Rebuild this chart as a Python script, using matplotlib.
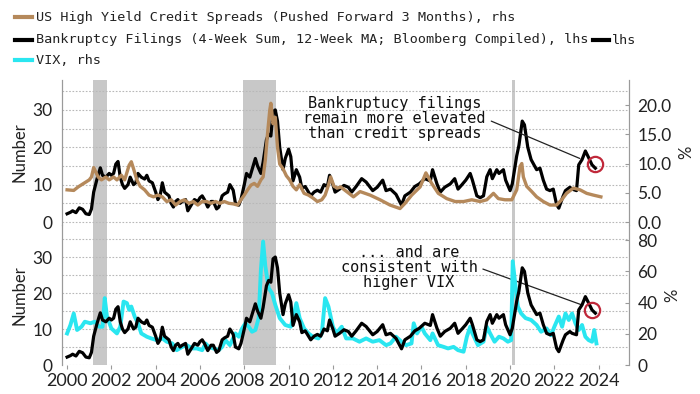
import matplotlib.pyplot as plt
from matplotlib.lines import Line2D
from matplotlib.ticker import MultipleLocator

# Bankruptcy filings (4-week sum, 12-week MA), lhs
bk_years = [2000.00, 2000.15, 2000.25, 2000.40, 2000.55, 2000.70, 2000.85, 2001.00, 2001.10, 2001.20,
            2001.35, 2001.50, 2001.60, 2001.75, 2001.90, 2002.00, 2002.10, 2002.20, 2002.30, 2002.40,
            2002.50, 2002.60, 2002.75, 2002.85, 2003.00, 2003.10, 2003.20, 2003.35, 2003.50, 2003.60,
            2003.70, 2003.85, 2004.00, 2004.10, 2004.20, 2004.30, 2004.40, 2004.50, 2004.60, 2004.70,
            2004.80, 2004.90, 2005.00, 2005.10, 2005.20, 2005.35, 2005.45, 2005.60, 2005.75, 2005.90,
            2006.00, 2006.10, 2006.20, 2006.35, 2006.50, 2006.60, 2006.75, 2006.85, 2007.00, 2007.10,
            2007.25, 2007.35, 2007.50, 2007.60, 2007.75, 2007.85, 2008.00, 2008.10, 2008.25, 2008.40,
            2008.50, 2008.60, 2008.75, 2008.85, 2009.00, 2009.10, 2009.20, 2009.30, 2009.40, 2009.50,
            2009.60, 2009.75, 2009.85, 2010.00, 2010.10, 2010.20, 2010.35, 2010.50, 2010.60, 2010.75,
            2010.90, 2011.00, 2011.15, 2011.30, 2011.45, 2011.60, 2011.75, 2011.85, 2012.00, 2012.10,
            2012.30, 2012.50, 2012.70, 2012.85, 2013.05, 2013.30, 2013.50, 2013.80, 2014.00, 2014.25,
            2014.40, 2014.60, 2014.85, 2015.10, 2015.25, 2015.50, 2015.70, 2015.90, 2016.15, 2016.40,
            2016.50, 2016.70, 2016.85, 2017.05, 2017.30, 2017.50, 2017.65, 2017.80, 2018.00, 2018.20,
            2018.30, 2018.50, 2018.65, 2018.80, 2018.95, 2019.10, 2019.20, 2019.40, 2019.50, 2019.70,
            2019.80, 2020.00, 2020.10, 2020.30, 2020.40, 2020.55, 2020.65, 2020.80, 2020.95, 2021.20,
            2021.35, 2021.50, 2021.65, 2021.80, 2021.95, 2022.10, 2022.20, 2022.40, 2022.50, 2022.70,
            2022.80, 2023.00, 2023.10, 2023.25, 2023.40, 2023.55, 2023.70, 2023.85]
bk_vals = [2.2, 2.6, 3.0, 2.5, 3.8, 3.4, 2.2, 2.0, 3.5, 8.0,
           11.5, 14.5, 12.5, 12.0, 13.0, 12.5, 13.0, 15.5, 16.2, 12.0,
           10.0, 9.0, 10.0, 12.0, 10.0, 10.5, 13.0, 12.0, 11.5, 12.5,
           11.0, 10.5, 8.0, 6.0, 7.0, 10.5, 8.0, 7.5, 7.0, 5.0,
           4.0, 5.5, 6.0, 5.0, 5.5, 6.0, 3.0, 4.5, 6.0, 5.5,
           6.5, 7.0, 6.0, 4.0, 5.5, 5.5, 3.5, 4.0, 7.0, 7.5,
           8.0, 10.0, 8.5, 5.0, 4.5, 6.0, 10.0, 13.0, 12.0, 15.0,
           17.0, 15.0, 13.0, 16.0, 22.0, 23.5, 23.0, 29.5, 30.0, 27.0,
           20.0, 14.0, 17.0, 19.5, 17.5, 11.0, 14.0, 12.0, 9.0, 9.5,
           8.0, 7.0, 8.0, 8.5, 8.0, 10.0, 9.5, 12.5, 10.0, 8.0,
           8.8, 9.8, 9.3, 8.0, 9.5, 11.6, 10.7, 8.4, 9.3, 11.2,
           8.4, 8.8, 7.4, 4.5, 7.0, 8.0, 9.5, 10.2, 11.6, 11.0,
           14.0, 10.2, 8.0, 9.3, 10.2, 11.6, 8.8, 9.8, 11.2, 13.0,
           11.2, 7.0, 6.5, 7.0, 12.1, 14.0, 11.6, 14.0, 13.0, 14.0,
           11.2, 8.4, 10.2, 17.7, 20.5, 27.0, 26.0, 20.0, 16.7, 14.0,
           14.4, 11.2, 8.8, 8.4, 8.8, 4.7, 3.7, 7.0, 8.4, 9.3,
           8.8, 8.4, 15.3, 16.7, 19.0, 17.2, 15.3, 14.4]

# US high yield credit spreads (pushed forward 3 months), rhs, %
sp_years = [2000.00, 2000.30, 2000.50, 2000.75, 2001.00, 2001.10, 2001.20, 2001.40, 2001.55, 2001.75,
            2001.90, 2002.10, 2002.25, 2002.45, 2002.60, 2002.80, 2002.90, 2003.00, 2003.15, 2003.30,
            2003.50, 2003.70, 2003.90, 2004.10, 2004.30, 2004.50, 2004.70, 2004.90, 2005.10, 2005.30,
            2005.50, 2005.70, 2005.90, 2006.10, 2006.30, 2006.50, 2006.70, 2006.90, 2007.10, 2007.30,
            2007.50, 2007.70, 2007.85, 2008.00, 2008.15, 2008.30, 2008.45, 2008.60, 2008.75, 2008.85,
            2008.95, 2009.05, 2009.15, 2009.20, 2009.30, 2009.40, 2009.50, 2009.60, 2009.75, 2009.90,
            2010.05, 2010.20, 2010.35, 2010.50, 2010.70, 2010.90, 2011.10, 2011.30, 2011.50, 2011.65,
            2011.80, 2011.90, 2012.05, 2012.20, 2012.35, 2012.93, 2013.23, 2013.68, 2014.13, 2014.58,
            2015.03, 2015.26, 2015.56, 2015.94, 2016.20, 2016.46, 2016.76, 2017.14, 2017.52, 2017.90,
            2018.27, 2018.65, 2018.95, 2019.25, 2019.47, 2019.77, 2020.08, 2020.30, 2020.45, 2020.53,
            2020.60, 2020.75, 2020.98, 2021.20, 2021.50, 2021.80, 2022.10, 2022.33, 2022.55, 2022.86,
            2023.16, 2023.46, 2023.76, 2024.10]
sp_vals = [5.5, 5.4, 6.0, 6.6, 7.2, 7.7, 9.3, 7.7, 7.2, 7.7,
           7.2, 7.7, 7.2, 8.0, 7.2, 9.7, 10.3, 9.1, 7.2, 6.1,
           5.5, 4.6, 4.3, 4.6, 4.3, 3.5, 3.8, 2.9, 3.5, 3.8,
           3.2, 3.5, 2.9, 3.5, 3.5, 3.2, 3.5, 3.2, 3.5, 3.2,
           3.1, 2.9, 3.8, 4.6, 5.5, 6.3, 6.6, 6.1, 7.2, 7.7,
           10.6, 15.1, 19.1, 20.3, 16.8, 17.9, 12.8, 9.9, 9.1, 7.9,
           7.2, 6.1, 5.5, 6.4, 4.9, 4.6, 4.1, 3.5, 3.8, 4.6,
           6.3, 7.7, 6.1, 5.8, 6.0, 4.3, 5.2, 4.6, 3.8, 2.9,
           2.3, 3.2, 4.6, 6.0, 8.4, 6.6, 4.9, 4.0, 3.5, 3.5,
           3.8, 3.5, 3.8, 4.9, 4.0, 3.8, 3.8, 5.5, 9.5, 10.0,
           7.7, 6.1, 5.2, 4.3, 3.5, 2.9, 2.9, 3.8, 4.9, 5.8,
           5.5, 4.9, 4.6, 4.3]

# VIX, rhs
vix_years = [2000.00, 2000.15, 2000.30, 2000.45, 2000.65, 2000.80, 2001.05, 2001.25, 2001.45, 2001.60,
             2001.70, 2001.80, 2002.00, 2002.25, 2002.40, 2002.55, 2002.70, 2002.80, 2002.90, 2003.05,
             2003.20, 2003.35, 2003.60, 2003.80, 2004.05, 2004.30, 2004.50, 2004.75, 2004.95, 2005.20,
             2005.40, 2005.65, 2005.85, 2006.10, 2006.25, 2006.40, 2006.60, 2006.85, 2007.00, 2007.15,
             2007.35, 2007.60, 2007.75, 2007.90, 2008.05, 2008.20, 2008.35, 2008.50, 2008.65, 2008.75,
             2008.85, 2008.95, 2009.10, 2009.25, 2009.40, 2009.60, 2009.85, 2010.10, 2010.25, 2010.35,
             2010.50, 2010.70, 2010.90, 2011.10, 2011.35, 2011.50, 2011.65, 2011.80, 2012.00, 2012.15,
             2012.40, 2012.60, 2012.90, 2013.20, 2013.50, 2013.80, 2014.10, 2014.40, 2014.60, 2014.85,
             2015.10, 2015.30, 2015.55, 2015.65, 2015.80, 2016.00, 2016.15, 2016.40, 2016.50, 2016.75,
             2017.00, 2017.20, 2017.45, 2017.65, 2017.90, 2018.05, 2018.20, 2018.30, 2018.55, 2018.80,
             2018.95, 2019.10, 2019.30, 2019.50, 2019.70, 2019.90, 2020.05, 2020.12, 2020.25, 2020.35,
             2020.50, 2020.70, 2020.95, 2021.20, 2021.40, 2021.65, 2021.85, 2022.00, 2022.20, 2022.35,
             2022.50, 2022.65, 2022.80, 2022.95, 2023.10, 2023.25, 2023.40, 2023.55, 2023.70, 2023.80,
             2023.90]
vix_vals = [20.2, 25.6, 33.0, 22.4, 24.5, 27.7, 26.7, 27.7, 24.5, 24.5,
            42.8, 31.0, 23.4, 20.2, 24.5, 40.6, 39.6, 35.3, 37.4, 31.0,
            26.7, 20.2, 18.1, 17.0, 15.9, 17.0, 14.9, 13.8, 9.5, 11.6,
            12.7, 10.6, 10.6, 9.5, 13.8, 11.6, 10.6, 9.5, 11.6, 15.9,
            12.7, 20.2, 18.1, 23.4, 26.7, 24.5, 21.3, 22.4, 30.0, 61.0,
            79.0, 63.2, 49.2, 46.0, 38.5, 30.0, 25.6, 24.5, 33.0, 39.6,
            30.0, 23.4, 20.2, 18.1, 17.0, 20.2, 42.8, 37.4, 24.5, 20.2,
            24.5, 17.0, 17.0, 14.9, 17.0, 14.9, 15.9, 12.7, 13.8, 18.1,
            14.9, 12.7, 13.8, 26.7, 20.2, 24.5, 20.2, 15.9, 20.2, 12.7,
            11.6, 10.6, 11.6, 9.5, 8.5, 18.1, 24.5, 20.2, 12.7, 14.9,
            24.5, 20.2, 14.9, 18.1, 17.0, 14.9, 15.9, 66.4, 50.3, 37.4,
            33.0, 30.0, 28.8, 25.6, 21.3, 23.4, 19.1, 24.5, 31.0, 24.5,
            33.0, 28.8, 33.0, 26.7, 22.4, 25.6, 18.1, 15.9, 14.9, 22.4,
            13.8]

recessions = [(2001.17, 2001.80), (2007.92, 2009.42), (2020.10, 2020.22)]
year_ticks = list(range(2000, 2025, 2))

TAN = '#b5895b'
CYAN = '#2ae6f0'
RED = '#c0283a'
GRID = '#b8b8b8'
SPINE = '#9a9a9a'
NUM_FONT = 'Lato'
MONO = 'DejaVu Sans Mono'

fig = plt.figure(figsize=(7, 3.94), dpi=100)
W, H = 700, 394
ax_t = fig.add_axes([62 / W, 1 - 225 / H, 567 / W, 145 / H])
ax_b = fig.add_axes([62 / W, 1 - 365 / H, 567 / W, 140 / H])
tw_t = ax_t.twinx()
tw_b = ax_b.twinx()


def style(ax, tw, ylim_l, ylim_r, rticks, rfmt):
    ax.set_xlim(1999.77, 2025.37)
    ax.set_ylim(*ylim_l)
    tw.set_ylim(*ylim_r)
    for a0, a1 in recessions:
        ax.axvspan(a0, a1, color='#c8c8c8', lw=0, zorder=0)
    ax.yaxis.set_major_locator(MultipleLocator(10))
    ax.yaxis.set_minor_locator(MultipleLocator(5))
    ax.grid(True, which='both', axis='y', ls=(0, (1.5, 1.5)), color=GRID, lw=0.8)
    ax.set_axisbelow(True)
    tw.set_yticks(rticks)
    tw.set_yticklabels([rfmt % v for v in rticks])
    for a in (ax, tw):
        a.spines['top'].set_visible(False)
        a.spines['bottom'].set_visible(False)
        a.spines['left'].set_color(SPINE)
        a.spines['right'].set_color(SPINE)
    ax.tick_params(axis='y', which='both', length=0, pad=7, labelsize=12.5, labelcolor='#222222')
    tw.tick_params(axis='y', length=3, direction='in', color=SPINE, pad=6,
                   labelsize=12.5, labelcolor='#222222')
    for lab in ax.get_yticklabels() + tw.get_yticklabels():
        lab.set_fontfamily(NUM_FONT)
    ax.set_ylabel('Number', fontsize=12, fontfamily=NUM_FONT, labelpad=3, color='#222222')
    tw.set_ylabel('%', fontsize=12, fontfamily=NUM_FONT, rotation=90, labelpad=5, color='#222222')


style(ax_t, tw_t, (-0.8, 38.0), (-0.8 * 3.737 / 5.85, 38.0 * 3.737 / 5.85),
      [0, 5, 10, 15, 20], '%.1f')
style(ax_b, tw_b, (0, 38.9), (0, 89.6), [0, 20, 40, 60, 80], '%d')

ax_t.set_xticks(year_ticks)
ax_t.tick_params(axis='x', length=0, labelbottom=False)
ax_b.set_xticks(year_ticks)
ax_b.tick_params(axis='x', length=3, color=SPINE, pad=3, labelsize=13, labelcolor='#222222')
for lab in ax_b.get_xticklabels():
    lab.set_fontfamily(NUM_FONT)

# top panel: filings vs spreads
ax_t.plot(bk_years, bk_vals, color='black', lw=2.3, zorder=3)
tw_t.plot(sp_years, sp_vals, color=TAN, lw=2.4, zorder=3)
ax_t.plot(bk_years[-1], bk_vals[-1] + 1.0, 'o', ms=11, mfc='none', mec=RED, mew=1.6, zorder=5)
ax_t.annotate('Bankruptucy filings\nremain more elevated\nthan credit spreads',
              xy=(2023.15, 17.0), xytext=(2014.79, 27.6), ha='center', va='center',
              fontsize=11, fontfamily=MONO, color='#111111', linespacing=1.0,
              arrowprops=dict(arrowstyle='-', color='#222222', lw=0.9, relpos=(1, 0.5),
                              shrinkA=2, shrinkB=0))

# bottom panel: filings vs VIX (filings drawn on top)
tw_b.plot(vix_years, vix_vals, color=CYAN, lw=2.8, zorder=2)
tw_b.plot(bk_years, bk_vals, color='black', lw=2.3, zorder=3, transform=ax_b.transData)
tw_b.plot(bk_years[-1] - 0.15, bk_vals[-1] + 0.8, 'o', ms=11, mfc='none', mec=RED, mew=1.6,
          zorder=5, transform=ax_b.transData)
tw_b.set_ylim(0, 89.6)
ax_b.annotate('... and are\nconsistent with\nhigher VIX',
              xy=(2023.24, 16.7), xytext=(2015.44, 27.2), ha='center', va='center',
              fontsize=11, fontfamily=MONO, color='#111111', linespacing=1.0,
              arrowprops=dict(arrowstyle='-', color='#222222', lw=0.9, relpos=(1, 0.5),
                              shrinkA=2, shrinkB=0))

# legend drawn in figure pixels
legend_rows = [
    (17, TAN, 'US High Yield Credit Spreads (Pushed Forward 3 Months), rhs'),
    (40, 'black', 'Bankruptcy Filings (4-Week Sum, 12-Week MA; Bloomberg Compiled), lhs'),
    (60, CYAN, 'VIX, rhs'),
]
for y, col, txt in legend_rows:
    fig.add_artist(Line2D([15 / W, 32 / W], [1 - y / H, 1 - y / H], color=col, lw=3))
    fig.text(36 / W, 1 - y / H, txt, fontsize=9.7, fontfamily=MONO, va='center', color='#222222')
fig.add_artist(Line2D([593 / W, 609 / W], [1 - 40 / H, 1 - 40 / H], color='black', lw=3))
fig.text(612 / W, 1 - 40 / H, 'lhs', fontsize=9.7, fontfamily=MONO, va='center', color='#222222')

fig.savefig('out.png', dpi=100)
